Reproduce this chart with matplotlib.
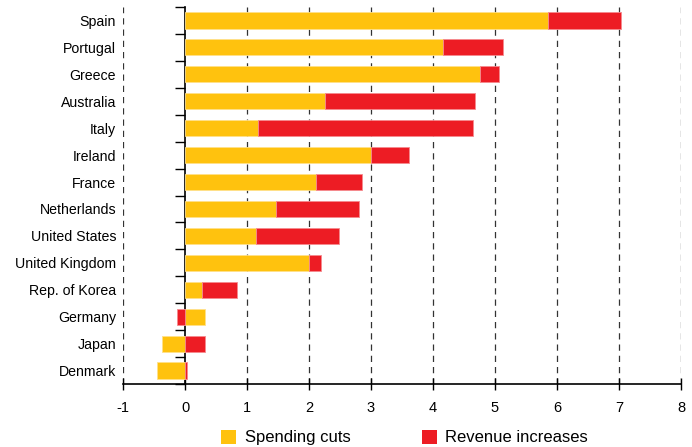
import numpy as np
import matplotlib.pyplot as plt
from matplotlib.patches import Patch

plt.rcParams['font.family'] = ['Liberation Sans', 'DejaVu Sans']
plt.rcParams['axes.unicode_minus'] = False

countries = ['Spain', 'Portugal', 'Greece', 'Australia', 'Italy', 'Ireland', 'France',
             'Netherlands', 'United States', 'United Kingdom', 'Rep. of Korea',
             'Germany', 'Japan', 'Denmark']
spending = [5.86, 4.16, 4.75, 2.26, 1.17, 3.00, 2.12, 1.46, 1.15, 2.00, 0.27, 0.33, -0.37, -0.45]
revenue = [1.18, 0.97, 0.31, 2.41, 3.48, 0.62, 0.73, 1.34, 1.33, 0.20, 0.57, -0.13, 0.33, 0.04]

yellow = '#FFC20E'
red = '#ED1C24'

sp = np.array(spending)
rv = np.array(revenue)
# revenue stacks on the positive or negative side separately
rv_left = np.where(rv >= 0, np.maximum(sp, 0), np.minimum(sp, 0))

y = np.arange(len(countries))

fig = plt.figure(figsize=(6.92, 4.47), dpi=100)
ax = fig.add_axes([123/692, 63/447, 558/692, 377/447])

ax.barh(y, sp, height=0.6, color=yellow, edgecolor='#FFE08A', linewidth=0.6, zorder=3)
ax.barh(y, rv, left=rv_left, height=0.6, color=red, edgecolor='#F58A8E', linewidth=0.6, zorder=3)

ax.set_xlim(-1, 8)
ax.set_ylim(len(countries) - 0.5, -0.5)

ax.set_xticks(range(-1, 9))
ax.tick_params(axis='x', direction='inout', length=8, width=1, labelsize=10.5, pad=8)
ax.set_yticks(y)
ax.set_yticklabels(countries, fontsize=10.2)
ax.tick_params(axis='y', length=0, pad=5)

for xv in range(-1, 9):
    if xv != 0:
        ax.axvline(xv, color='#333333', linestyle=(0, (5, 4)), linewidth=0.9, zorder=1)

for s in ['top', 'right', 'left']:
    ax.spines[s].set_visible(False)
ax.spines['bottom'].set_linewidth(1.2)

# zero line with category divider ticks
sec = ax.secondary_yaxis(1/9)
sec.set_yticks(np.arange(-0.5, len(countries), 1))
sec.set_yticklabels([])
sec.tick_params(axis='y', direction='out', length=7, width=1)
sec.spines['left'].set_linewidth(1.2)

handles = [Patch(facecolor=yellow, edgecolor='none', label='Spending cuts'),
           Patch(facecolor=red, edgecolor='none', label='Revenue increases')]
fig.legend(handles=handles, loc='lower center', bbox_to_anchor=(0.585, -0.03), ncol=2,
           frameon=False, fontsize=12, handlelength=0.9, handleheight=0.9,
           handletextpad=0.5, columnspacing=4.3)

fig.savefig('out.png', dpi=100)
